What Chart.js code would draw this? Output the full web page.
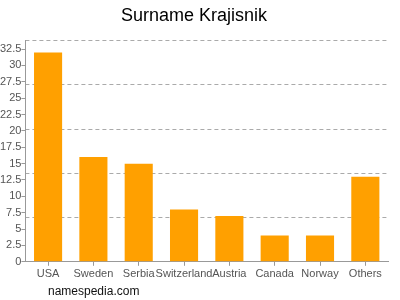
<!DOCTYPE html>
<html>
<head>
<meta charset="utf-8">
<script src="https://cdn.jsdelivr.net/npm/chart.js@4"></script>
<style>
html,body{margin:0;padding:0;background:#fff;}
#wrap{position:relative;width:400px;height:300px;}
#mark{position:absolute;left:48px;top:284px;font:12px "Liberation Sans",Arial,sans-serif;color:#111;}
</style>
</head>
<body>
<div id="wrap">
<canvas id="c" width="400" height="300"></canvas>
<div id="mark">namespedia.com</div>
</div>
<script>
const categories = ["USA","Sweden","Serbia","Switzerland","Austria","Canada","Norway","Others"];
const values = [32, 16, 15, 8, 7, 4, 4, 13];
const yMax = 33.8;
const yStep = 2.5;
const gridCount = 6;

Chart.defaults.font.family = '"Liberation Sans", Arial, sans-serif';
new Chart(document.getElementById('c'), {
  type: 'bar',
  data: {
    labels: categories,
    datasets: [{
      data: values,
      backgroundColor: '#ffa000',
      borderWidth: 0,
      categoryPercentage: 0.62,
      barPercentage: 1
    }]
  },
  options: {
    responsive: false,
    animation: false,
    layout: { padding: { left: 0, right: 12, top: 1, bottom: 17 } },
    plugins: {
      legend: { display: false },
      tooltip: { enabled: false },
      title: {
        display: true,
        text: 'Surname Krajisnik',
        color: '#000',
        font: { size: 18, weight: 'normal' },
        padding: { top: 4, bottom: 14 }
      }
    },
    scales: {
      x: {
        grid: { offset: false, drawOnChartArea: false, drawTicks: true, tickLength: 4, color: '#999' },
        border: { display: true, color: '#999' },
        ticks: { color: '#555', font: { size: 11 }, maxRotation: 0, autoSkip: false, padding: 2 }
      },
      y: {
        min: 0, max: yMax,
        grid: { drawOnChartArea: false, drawTicks: true, tickLength: 4, color: '#999' },
        border: { display: true, color: '#999' },
        ticks: { stepSize: yStep, includeBounds: false, color: '#555', font: { size: 11 }, padding: 0 }
      },
      g: {
        position: 'right',
        min: 0, max: yMax,
        ticks: { display: false, count: gridCount },
        border: { display: false, dash: [4,3] },
        grid: { drawTicks: false, color: '#aaa', lineWidth: 1 },
        afterFit: (s) => { s.width = 0; }
      }
    }
  }
});
</script>
</body>
</html>
